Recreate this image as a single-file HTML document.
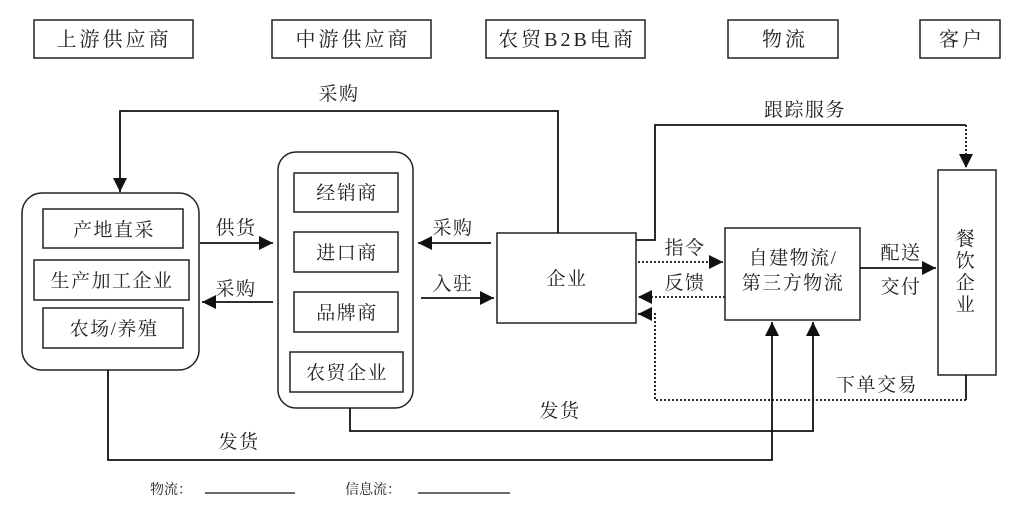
<!DOCTYPE html>
<html><head><meta charset="utf-8"><style>
html,body{margin:0;padding:0;background:#fff;}
svg text{font-family:"Liberation Serif","Noto Serif CJK SC",serif;fill:#222;}
</style></head><body>
<svg width="1028" height="510" viewBox="0 0 1028 510" xmlns="http://www.w3.org/2000/svg">
<defs>
<marker id="b" viewBox="0 0 10 10" refX="10" refY="5" markerWidth="14" markerHeight="14" orient="auto" markerUnits="userSpaceOnUse"><path d="M0,0 L10,5 L0,10 z" fill="#111"/></marker>
</defs>
<g fill="none" stroke="#222" stroke-width="1.5">
<rect x="34" y="20" width="159" height="38"/>
<rect x="272" y="20" width="159" height="38"/>
<rect x="486" y="20" width="159" height="38"/>
<rect x="728" y="20" width="110" height="38"/>
<rect x="920" y="20" width="80" height="38"/>
<rect x="22" y="193" width="177" height="177" rx="20"/>
<rect x="43" y="209" width="140" height="39"/>
<rect x="34" y="260" width="155" height="40"/>
<rect x="43" y="308" width="140" height="40"/>
<rect x="278" y="152" width="135" height="256" rx="18"/>
<rect x="294" y="173" width="104" height="39"/>
<rect x="294" y="232" width="104" height="40"/>
<rect x="294" y="292" width="104" height="40"/>
<rect x="290" y="352" width="113" height="40"/>
<rect x="497" y="233" width="139" height="90"/>
<rect x="725" y="228" width="135" height="92"/>
<rect x="938" y="170" width="58" height="205"/>
</g>
<g fill="none" stroke="#111" stroke-width="1.8">
<line x1="200" y1="243" x2="273" y2="243" marker-end="url(#b)"/>
<line x1="273" y1="302" x2="202" y2="302" marker-end="url(#b)"/>
<line x1="491" y1="243" x2="418" y2="243" marker-end="url(#b)"/>
<line x1="421" y1="298" x2="494" y2="298" marker-end="url(#b)"/>
<polyline points="558,233 558,111 120,111 120,192" marker-end="url(#b)"/>
<polyline points="636,240 655,240 655,125 966,125"/>
<line x1="860" y1="268" x2="936" y2="268" marker-end="url(#b)"/>
<polyline points="108,370 108,460 772,460 772,322" marker-end="url(#b)"/>
<polyline points="350,408 350,431 813,431 813,322" marker-end="url(#b)"/>
<line x1="966" y1="375" x2="966" y2="400"/>
</g>
<g fill="none" stroke="#111" stroke-width="1.8" stroke-dasharray="2,2">
<line x1="966" y1="125" x2="966" y2="168" marker-end="url(#b)"/>
<line x1="638" y1="262" x2="723" y2="262" marker-end="url(#b)"/>
<line x1="725" y1="297" x2="638" y2="297" marker-end="url(#b)"/>
<polyline points="966,400 655,400 655,314 638,314" marker-end="url(#b)"/>
</g>
<g stroke="#111" stroke-width="1.2">
<line x1="205" y1="493" x2="295" y2="493"/>
<line x1="418" y1="493" x2="510" y2="493"/>
</g>
<g font-size="20" text-anchor="middle" letter-spacing="3">
<text x="114" y="46">上游供应商</text>
<text x="353" y="46">中游供应商</text>
<text x="567" y="46">农贸B2B电商</text>
<text x="785" y="46">物流</text>
<text x="962" y="46">客户</text>
</g>
<g font-size="19" text-anchor="middle" letter-spacing="1.5">
<text x="114" y="236">产地直采</text>
<text x="112" y="287">生产加工企业</text>
<text x="114" y="335">农场/养殖</text>
<text x="347" y="199">经销商</text>
<text x="347" y="259">进口商</text>
<text x="347" y="319">品牌商</text>
<text x="347" y="379">农贸企业</text>
<text x="567" y="285">企业</text>
<text x="793" y="264">自建物流/</text>
<text x="793" y="289">第三方物流</text>
<text x="966" y="245">餐</text>
<text x="966" y="267">饮</text>
<text x="966" y="289">企</text>
<text x="966" y="311">业</text>
<text x="236" y="234">供货</text>
<text x="236" y="295">采购</text>
<text x="453" y="234">采购</text>
<text x="453" y="290">入驻</text>
<text x="339" y="100">采购</text>
<text x="805" y="116">跟踪服务</text>
<text x="685" y="254">指令</text>
<text x="685" y="289">反馈</text>
<text x="901" y="259">配送</text>
<text x="901" y="293">交付</text>
<text x="877" y="391">下单交易</text>
<text x="560" y="417">发货</text>
<text x="239" y="448">发货</text>
</g>
<g font-size="14">
<text x="150" y="494">物流：</text>
<text x="345" y="494">信息流：</text>
</g>
</svg>
</body></html>
